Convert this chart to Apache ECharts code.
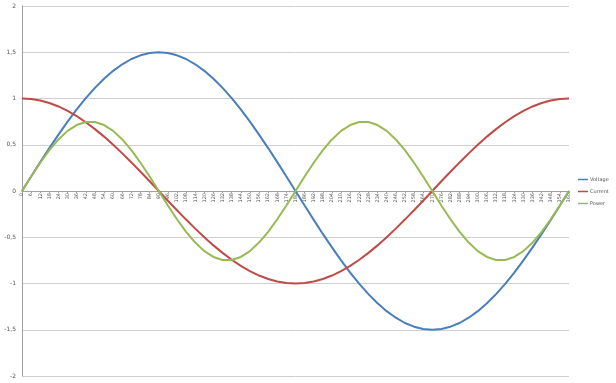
<!DOCTYPE html>
<html><head><meta charset="utf-8">
<script src="https://cdn.jsdelivr.net/npm/echarts@6/dist/echarts.min.js"></script>
<style>html,body{margin:0;padding:0;background:#fff}#c{width:616px;height:383px}</style>
</head><body><div id="c"></div>
<script>
const categories = ['0','6','12','18','24','30','36','42','48','54','60','66','72','78','84','90','96','102','108','114','120','126','132','138','144','150','156','162','168','174','180','186','192','198','204','210','216','222','228','234','240','246','252','258','264','270','276','282','288','294','300','306','312','318','324','330','336','342','348','354','360'];
const voltage = [0,0.157,0.312,0.464,0.610,0.750,0.882,1.004,1.115,1.214,1.299,1.370,1.427,1.467,1.492,1.500,1.492,1.467,1.427,1.370,1.299,1.214,1.115,1.004,0.882,0.750,0.610,0.464,0.312,0.157,0,-0.157,-0.312,-0.464,-0.610,-0.750,-0.882,-1.004,-1.115,-1.214,-1.299,-1.370,-1.427,-1.467,-1.492,-1.500,-1.492,-1.467,-1.427,-1.370,-1.299,-1.214,-1.115,-1.004,-0.882,-0.750,-0.610,-0.464,-0.312,-0.157,0];
const current = [1,0.995,0.978,0.951,0.914,0.866,0.809,0.743,0.669,0.588,0.500,0.407,0.309,0.208,0.105,0,-0.105,-0.208,-0.309,-0.407,-0.500,-0.588,-0.669,-0.743,-0.809,-0.866,-0.914,-0.951,-0.978,-0.995,-1,-0.995,-0.978,-0.951,-0.914,-0.866,-0.809,-0.743,-0.669,-0.588,-0.500,-0.407,-0.309,-0.208,-0.105,0,0.105,0.208,0.309,0.407,0.500,0.588,0.669,0.743,0.809,0.866,0.914,0.951,0.978,0.995,1];
const power = [0,0.156,0.305,0.441,0.557,0.650,0.713,0.746,0.746,0.713,0.650,0.557,0.441,0.305,0.156,0,-0.156,-0.305,-0.441,-0.557,-0.650,-0.713,-0.746,-0.746,-0.713,-0.650,-0.557,-0.441,-0.305,-0.156,0,0.156,0.305,0.441,0.557,0.650,0.713,0.746,0.746,0.713,0.650,0.557,0.441,0.305,0.156,0,-0.156,-0.305,-0.441,-0.557,-0.650,-0.713,-0.746,-0.746,-0.713,-0.650,-0.557,-0.441,-0.305,-0.156,0];
const seriesNames = ['Voltage','Current','Power'];
const colors = ['#4A7EBB','#BE4B48','#98B954'];

const chart = echarts.init(document.getElementById('c'));
chart.setOption({
  animation: false,
  backgroundColor: '#fff',
  color: colors,
  grid: {left: 22, right: 47, top: 6, bottom: 7, containLabel: false, outerBoundsMode: 'none'},
  legend: {
    orient: 'vertical', left: 578, top: 177, padding: 0,
    itemWidth: 10, itemHeight: 1.5, itemGap: 7,
    icon: 'rect',
    textStyle: {fontSize: 5, color: '#555', fontFamily: 'DejaVu Sans', padding: [0, 0, 0, -3]},
    data: seriesNames
  },
  xAxis: {
    type: 'category', data: categories, boundaryGap: false,
    position: 'bottom', offset: -185,
    axisLine: {onZero: false, lineStyle: {color: '#a0a0a0', width: 1}},
    axisTick: {show: true, length: 2, lineStyle: {color: '#a0a0a0'}},
    axisLabel: {interval: 0, rotate: 90, fontSize: 5, color: '#555', margin: 2, fontFamily: 'DejaVu Sans'},
    splitLine: {show: false}
  },
  yAxis: {
    type: 'value', min: -2, max: 2, interval: 0.5,
    axisLine: {show: true, lineStyle: {color: '#a0a0a0'}},
    axisTick: {show: false},
    axisLabel: {fontSize: 6, color: '#555', margin: 6, fontFamily: 'DejaVu Sans',
      formatter: v => String(v).replace('.', ',')},
    splitLine: {lineStyle: {color: '#d0d0d0', width: 1}}
  },
  series: [
    {name: seriesNames[0], type: 'line', data: voltage, showSymbol: false, smooth: false, lineStyle: {width: 2}},
    {name: seriesNames[1], type: 'line', data: current, showSymbol: false, smooth: false, lineStyle: {width: 2}},
    {name: seriesNames[2], type: 'line', data: power, showSymbol: false, smooth: false, lineStyle: {width: 2}}
  ]
});
</script></body></html>
